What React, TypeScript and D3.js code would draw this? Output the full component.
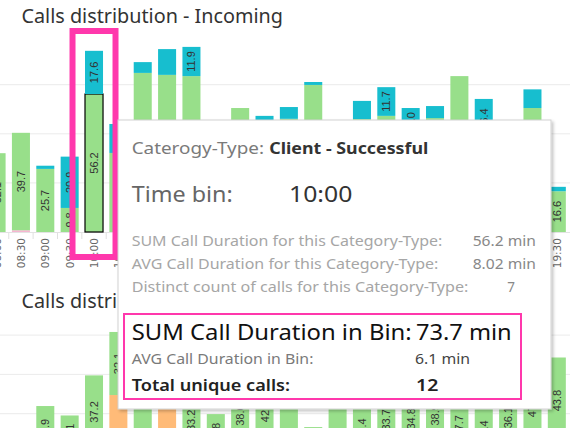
import * as d3 from "d3";

// time bins along the x axis (08:00 is partly scrolled off on the left)
const times = [
  "08:00", "08:30", "09:00", "09:30", "10:00", "10:30", "11:00", "11:30",
  "12:00", "12:30", "13:00", "13:30", "14:00", "14:30", "15:00", "15:30",
  "16:00", "16:30", "17:00", "17:30", "18:00", "18:30", "19:00", "19:30",
];

// Incoming: call duration (min) per category-type
const inPink = [0, 0.7, 0, 0, 0, 0, 0, 0, 0, 0, 0, 0, 0, 0, 0, 0, 0, 0, 0, 0, 0, 0, 0, 0];
const inGreen = [32.1, 39.7, 25.7, 9.8, 56.2, 32.2, 64.8, 64.0, 63.5, 28.4, 50.5, 42.0, 46.1, 59.9, 35.2, 46.0, 47.3, 38.5, 46.4, 63.5, 37.8, 20.3, 50.5, 16.6];
const inCyan = [0, 0, 1.3, 20.9, 17.6, 11.8, 4.4, 10.5, 11.9, 3.1, 0, 5.3, 4.8, 1.2, 0, 7.4, 11.7, 12.0, 4.9, 0, 16.4, 2.0, 7.6, 1.8];

// Outgoing
const outOrange = [0, 0, 0, 0, 2.3, 29.5, 0, 55.0, 0, 0, 0, 0, 0, 0, 0, 0, 0, 0, 0, 0, 0, 0, 0, 4.8];
const outGreen = [5.0, 0, 23.9, 19.1, 37.2, 32.1, 58.0, 0, 33.2, 19.8, 38.6, 42.3, 57.5, 13.2, 60.0, 24.4, 33.7, 34.8, 38.9, 27.7, 22.4, 36.1, 47.3, 43.8];

const gridValues = [20, 40, 60];

const selectedTime = "10:00";

// tooltip content
const tipCategory = "Client - Successful";
const tipTimeBin = "10:00";
const tipRowLabels = [
  "SUM Call Duration for this Category-Type:",
  "AVG Call Duration for this Category-Type:",
  "Distinct count of calls for this Category-Type:",
];
const tipRowValues = ["56.2 min", "8.02 min", "7"];
const tipBinSum = "73.7 min";
const tipBinAvg = "6.1 min";
const tipBinCalls = "12";

const colors: Record<string, string> = {
  pink: "#f7b6d2",
  green: "#98df8a",
  cyan: "#17becf",
  orange: "#ffbb78",
};

const W = 570;
const H = 428;
const PINK = "#ff38ac";
const TIP_FONT = "'Noto Sans', sans-serif";

const x = d3
  .scaleBand<string>()
  .domain(times)
  .range([-15.6, 569])
  .paddingInner(0.26)
  .paddingOuter(0.13);

const yIn = d3.scaleLinear().domain([0, 80]).range([232, 232 - 80 * 2.455]);
const yOut = d3.scaleLinear().domain([0, 80]).range([453, 453 - 80 * 1.965]);

type Row = { time: string; [k: string]: any };

const fmt = d3.format(".1f");
// rough width of a bar label, used to hide labels that do not fit
const labelWidth = (s: string) => s.replace(".", "").length * 6.1 + 3;

function StackedBars({ rows, keys, y, labelKeys, selKey }: any) {
  const series = d3.stack<Row>().keys(keys)(rows);
  const bw = x.bandwidth();
  return (
    <g>
      {series.map((s) =>
        s.map((d) => {
          const t = d.data.time;
          const v = d[1] - d[0];
          if (v <= 0) return null;
          const x0 = x(t)!;
          const yTop = y(d[1]);
          const h = y(d[0]) - yTop;
          const cx = x0 + bw / 2;
          const cy = yTop + h / 2;
          const label = fmt(v);
          const showLabel = labelKeys.includes(s.key) && h >= labelWidth(label) + 6;
          const selected = selKey === s.key && t === selectedTime;
          return (
            <g key={s.key + t}>
              <rect
                x={x0}
                y={yTop}
                width={bw}
                height={h}
                fill={colors[s.key]}
                stroke={selected ? "#000" : "none"}
                strokeWidth={selected ? 1.2 : 0}
              />
              {showLabel && (
                <text
                  x={cx}
                  y={cy}
                  transform={`rotate(-90,${cx},${cy})`}
                  textAnchor="middle"
                  dominantBaseline="central"
                  fontFamily="'Liberation Sans', Arial, sans-serif"
                  fontSize={11}
                  fill="#333"
                >
                  {label}
                </text>
              )}
            </g>
          );
        })
      )}
    </g>
  );
}

function Grid({ y }: any) {
  return (
    <g>
      {gridValues.map((g) => (
        <line key={g} x1={0} x2={W} y1={y(g)} y2={y(g)} stroke="#ebebeb" strokeWidth={1} />
      ))}
    </g>
  );
}

// text stretched to the width it takes in the reference
function T({ x, y, w, size, fill, weight, children }: any) {
  return (
    <text
      x={x}
      y={y}
      fontSize={size}
      fill={fill}
      fontWeight={weight || 400}
      textLength={w}
      lengthAdjust="spacingAndGlyphs"
    >
      {children}
    </text>
  );
}

export default function App() {
  const rowsIn: Row[] = times.map((t, i) => ({ time: t, pink: inPink[i], green: inGreen[i], cyan: inCyan[i] }));
  const rowsOut: Row[] = times.map((t, i) => ({ time: t, orange: outOrange[i], green: outGreen[i] }));
  const step = x.step();
  const bw = x.bandwidth();
  const selCx = x(selectedTime)! + bw / 2;

  const rowLabelW = [310.6, 306.7, 336.7];
  const rowValueX = [472.7, 472.7, 507.3];
  const rowValueW = [63.3, 63.3, 7.7];

  return (
    <div style={{ position: "fixed", left: 0, top: 0, width: W, height: H, background: "#fff", overflow: "hidden" }}>
      <svg width={W} height={H} style={{ display: "block" }}>
        <defs>
          <filter id="tip-shadow" x="-5%" y="-5%" width="112%" height="115%">
            <feDropShadow dx="2" dy="2" stdDeviation="1.6" floodColor="#000" floodOpacity="0.22" />
          </filter>
        </defs>

        {/* Incoming chart */}
        <text x={21.5} y={23} fontFamily={TIP_FONT} fontSize={19.8} fill="#333">
          Calls distribution - Incoming
        </text>
        <Grid y={yIn} />
        <line x1={0} x2={W} y1={yIn(0) + 0.5} y2={yIn(0) + 0.5} stroke="#e3e3e3" />
        <StackedBars rows={rowsIn} keys={["pink", "green", "cyan"]} y={yIn} labelKeys={["green", "cyan"]} selKey="green" />
        {times.map((t) => {
          const cx = x(t)! + bw / 2;
          return (
            <g key={"ax" + t}>
              <line x1={cx - step / 2} x2={cx - step / 2} y1={233} y2={239} stroke="#e0e0e0" />
              <text
                x={cx}
                y={238}
                transform={`rotate(-90,${cx},238)`}
                textAnchor="end"
                dominantBaseline="central"
                fontFamily="'DejaVu Sans', sans-serif"
                fontSize={10.5}
                fill="#666"
              >
                {t}
              </text>
            </g>
          );
        })}

        {/* Outgoing chart */}
        <text x={21.5} y={308} fontFamily={TIP_FONT} fontSize={19.8} fill="#333">
          Calls distribution - Outgoing
        </text>
        <Grid y={yOut} />
        <StackedBars rows={rowsOut} keys={["orange", "green"]} y={yOut} labelKeys={["green"]} selKey="" />

        {/* highlight frame around the selected bin */}
        <rect x={selCx - 21.5} y={31} width={43} height={226} fill="none" stroke={PINK} strokeWidth={6} />

        {/* tooltip */}
        <rect x={118} y={120} width={433} height={289} fill="#fff" stroke="#d2d2d2" filter="url(#tip-shadow)" />
        <g fontFamily={TIP_FONT}>
          <T x={131.7} y={154} w={132.3} size={16} fill="#7a7a7a">Caterogy-Type:</T>
          <T x={269.3} y={154} w={159} size={16} fill="#333" weight={700}>{tipCategory}</T>
          <T x={131.7} y={201.5} w={101} size={22} fill="#666">Time bin:</T>
          <T x={289} y={201.5} w={63.3} size={22} fill="#333">{tipTimeBin}</T>
          {tipRowLabels.map((r, i) => (
            <g key={r}>
              <T x={131.7} y={246 + i * 22.85} w={rowLabelW[i]} size={14} fill="#a6a6a6">{r}</T>
              <T x={rowValueX[i]} y={246 + i * 22.85} w={rowValueW[i]} size={14} fill="#888">{tipRowValues[i]}</T>
            </g>
          ))}
          <rect x={124} y={314} width={397} height={85} fill="none" stroke={PINK} strokeWidth={2} />
          <T x={131.7} y={340} w={280} size={21} fill="#111">SUM Call Duration in Bin:</T>
          <T x={416} y={340} w={95.7} size={21} fill="#111">{tipBinSum}</T>
          <T x={131.7} y={364.3} w={181.7} size={13.5} fill="#7a7a7a">AVG Call Duration in Bin:</T>
          <T x={415} y={364.3} w={55} size={13.5} fill="#444">{tipBinAvg}</T>
          <T x={131.7} y={390.7} w={158.3} size={16.5} fill="#222" weight={600}>Total unique calls:</T>
          <T x={416} y={390.7} w={22.3} size={16.5} fill="#222" weight={600}>{tipBinCalls}</T>
        </g>
      </svg>
    </div>
  );
}
